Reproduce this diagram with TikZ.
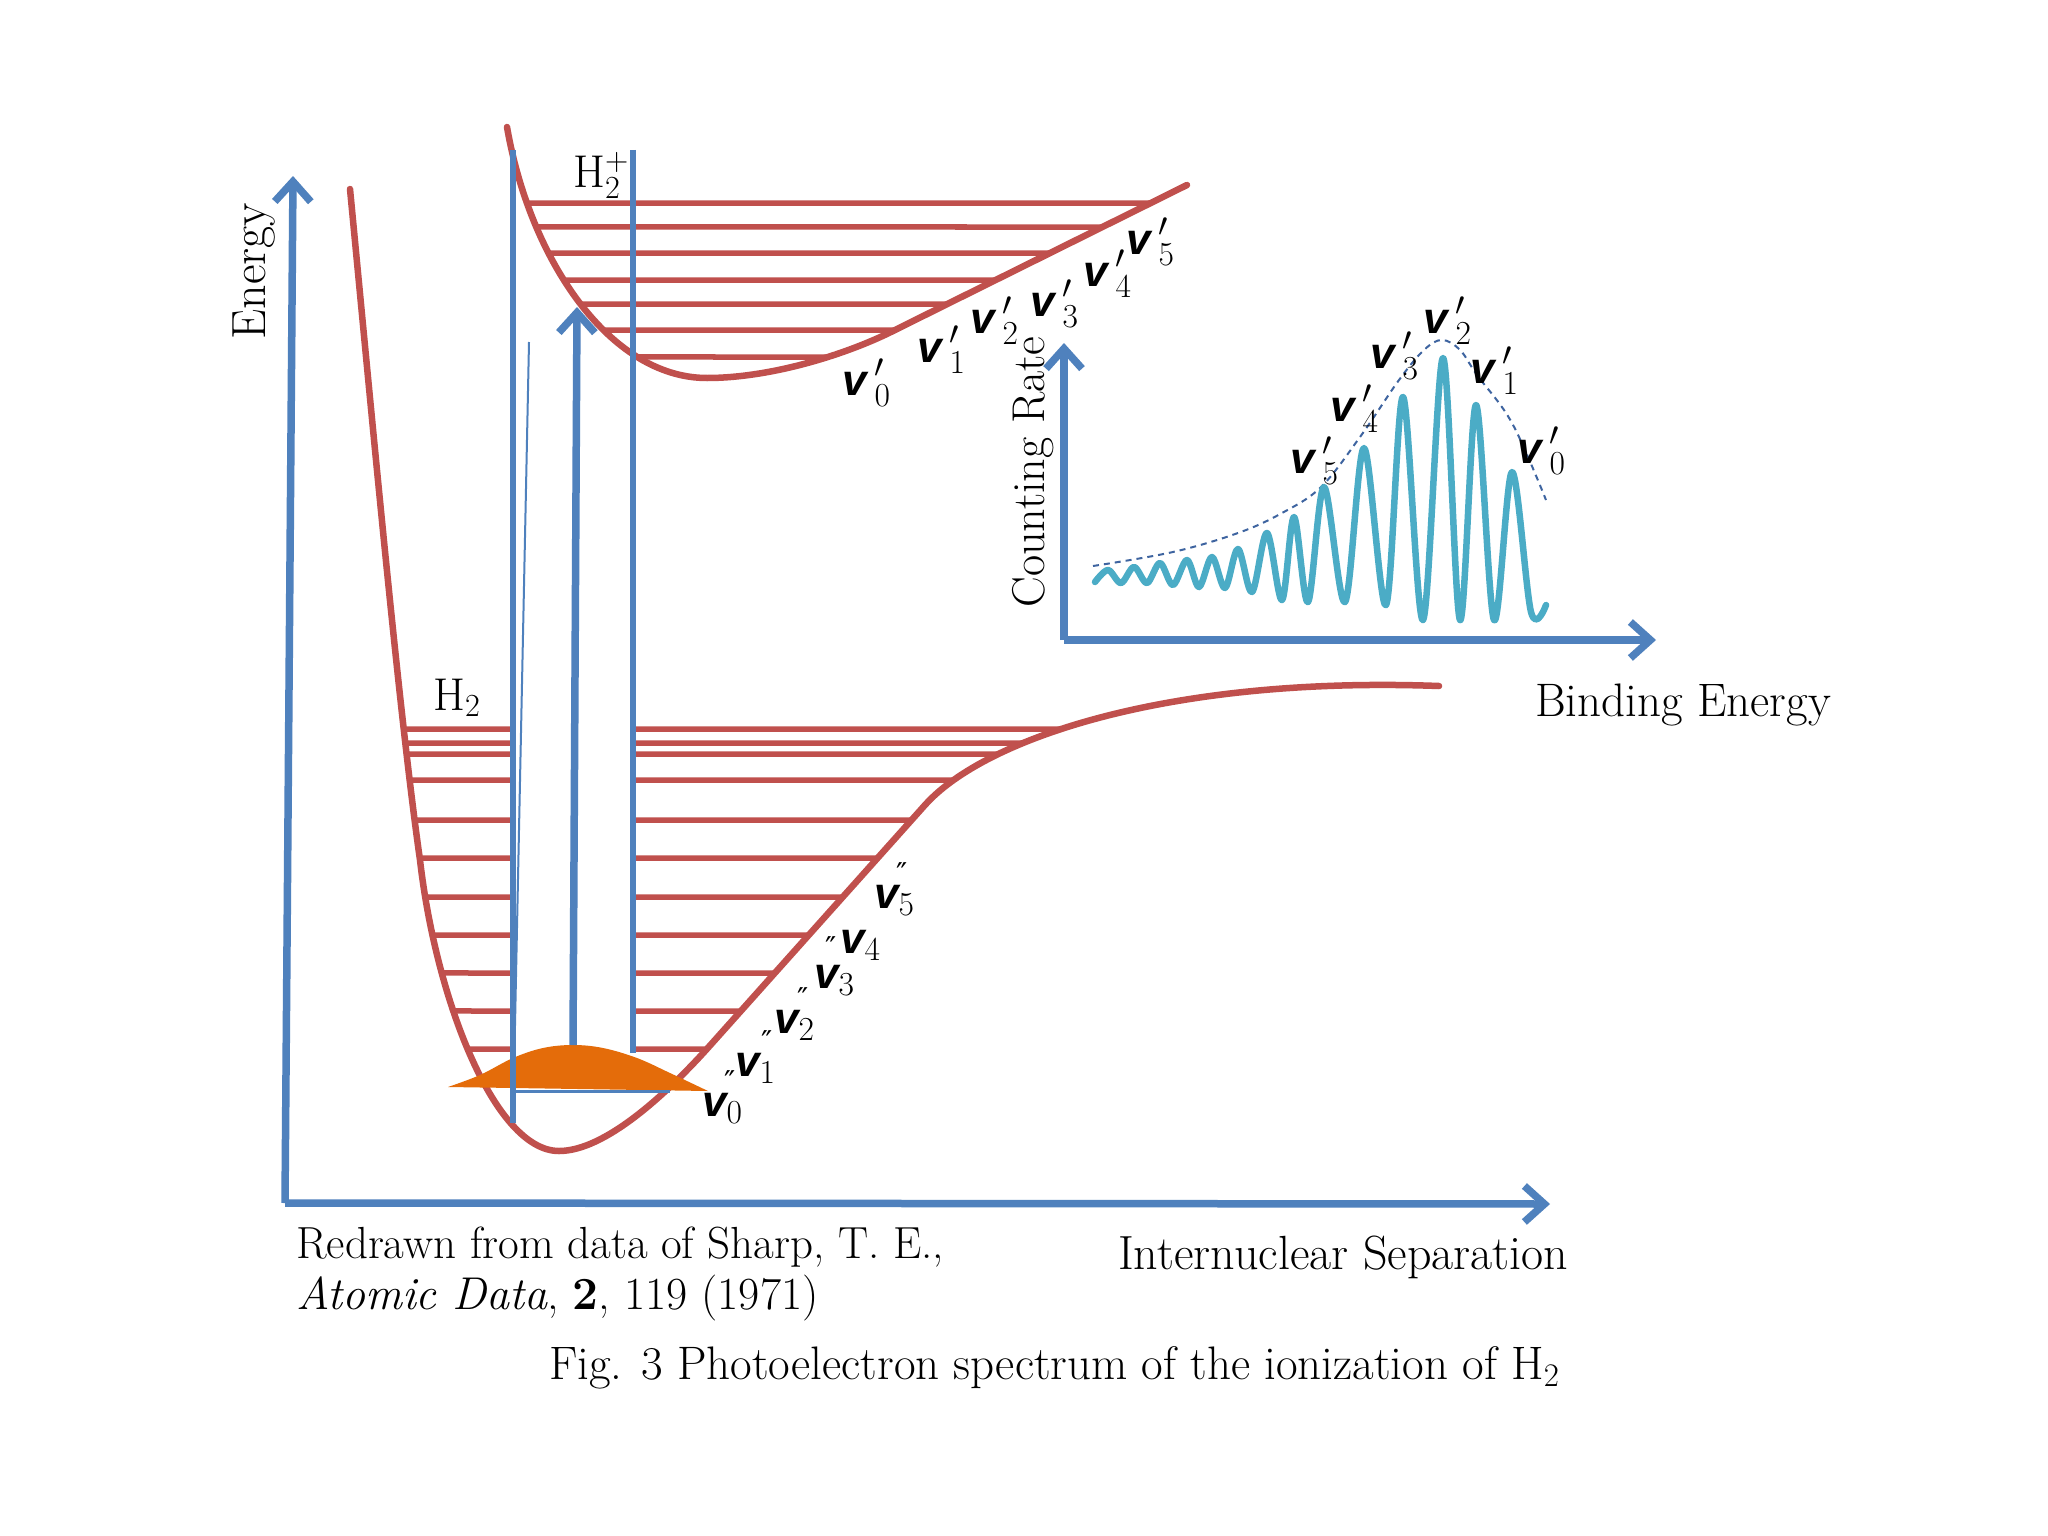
\RequirePackage{fix-cm}
\documentclass[tikz,border=0pt]{standalone}
\usepackage{fontspec}
\newfontfamily\vfont{Liberation Sans}
\newfontfamily\djv{DejaVu Sans}
\usetikzlibrary{arrows.meta,intersections}
\definecolor{pred}{HTML}{C0504D}
\definecolor{pblue}{HTML}{4F81BD}
\definecolor{pteal}{HTML}{4BACC6}
\definecolor{porange}{HTML}{E46C0A}
\definecolor{pdash}{HTML}{3E64A0}
\newcommand{\myv}{\mbox{\fontsize{44}{50}\selectfont\vfont\bfseries\itshape v}}
\begin{document}
\begin{tikzpicture}[x=1pt,y=-1pt,
  curve/.style={draw=pred, line width=6.5pt, line join=round, line cap=round},
  level/.style={draw=pred, line width=5.5pt},
  vline/.style={draw=pblue, line width=5.5pt},
  thinline/.style={draw=pblue, line width=2pt},
  axis/.style={draw=pblue, line width=7.5pt, -{Straight Barb[length=20pt,width=36pt]}},
  uparrow/.style={draw=pblue, line width=7.5pt, -{Straight Barb[length=20pt,width=36pt]}},
  spec/.style={draw=pteal, line width=6.5pt, line join=round, line cap=round},
  envelope/.style={draw=pdash, line width=2pt, dash pattern=on 6pt off 5pt},
  txt/.style={inner sep=0pt},
  vlab/.style={font=\fontsize{48}{54}\selectfont, inner sep=0pt, anchor=base west},
  tick/.style={font=\fontsize{30}{30}\djv, inner sep=0pt, anchor=base}
]
\useasboundingbox[fill=white] (0,0) rectangle (2048,1536);

% named (invisible) potential curves for level ends
\path[name path=pH] (350,189) .. controls (375,450) and (400,720) .. (420,860)
   .. controls (436,1000) and (495,1151) .. (559,1151)
   .. controls (605,1151) and (666,1094) .. (706,1050) -- (925,805)
   .. controls (985,738) and (1170,676) .. (1439,686);
\path[name path=pI] (507,127) .. controls (530,260) and (610,378) .. (707,378)
   .. controls (770,378) and (845,355) .. (893,331) -- (1187,185);

% H2 vibrational levels (left and right of the blue window)
\foreach \y [count=\i] in {729,743,754,780,820,858,897,935,973,1011,1049}{
  \path[name path=hl] (300,\y) -- (513,\y);
  \path[name path=hr] (633,\y) -- (1480,\y);
  \path[name intersections={of=pH and hl, name=L}];
  \path[name intersections={of=pH and hr, name=R}];
  \draw[level] (L-1) -- (513,\y);
  \draw[level] (633,\y) -- (R-1);
}
% H2+ vibrational levels
\foreach \y [count=\i] in {203,227,253,280,304,330,357}{
  \path[name path=il] (500,\y) -- (1300,\y);
  \path[name intersections={of=il and pI, name=P, sort by=il}];
  \draw[level] (P-1) -- (P-2);
}

% potential curves
\draw[curve] (350,189) .. controls (375,450) and (400,720) .. (420,860)
   .. controls (436,1000) and (495,1151) .. (559,1151)
   .. controls (605,1151) and (666,1094) .. (706,1050) -- (925,805)
   .. controls (985,738) and (1170,676) .. (1439,686);
\draw[curve] (507,127) .. controls (530,260) and (610,378) .. (707,378)
   .. controls (770,378) and (845,355) .. (893,331) -- (1187,185);

% orange ground-state wavefunction
\fill[porange] plot[smooth, tension=0.6] coordinates {(448,1087) (480,1075) (513,1058) (543,1048) (573,1045) (603,1048) (637,1058) (670,1073) (708,1091)} -- cycle;
\draw[pblue, line width=3pt] (513,1091) -- (670,1091);

% blue vertical window lines
\coordinate (blt) at (513,150); \coordinate (blb) at (513,1123);
\coordinate (brt) at (633,150); \coordinate (brb) at (633,1053);
\draw[vline] (blt) -- (blb);
\draw[vline] (brt) -- (brb);
\coordinate (tlt) at (529,342); \coordinate (tlb) at (513,1123);
\draw[thinline] (tlt) -- (tlb);
\coordinate (ionb) at (573,1045); \coordinate (iont) at (577,307);
\draw[uparrow] (ionb) -- (iont);

% main axes
\coordinate (origin) at (285,1203);
\coordinate (etop) at (293,176);
\coordinate (xend) at (1550,1204);
\draw[axis] (origin) -- (etop);
\draw[axis] (origin) -- (xend);

% spectrum inset axes
\coordinate (sorig) at (1064,640);
\coordinate (stop) at (1064,343);
\coordinate (send) at (1656,640);
\draw[axis] (sorig) -- (stop);
\draw[axis] (sorig) -- (send);

% spectrum
\draw[envelope] plot[smooth, tension=0.6] coordinates {(1093,566) (1173,552) (1238,533) (1282,513) (1321,487) (1360,437) (1399,380) (1424,350) (1442,340) (1460,350) (1477,375) (1512,423) (1546,500)};
\draw[spec] plot[smooth, tension=0.55] coordinates {(1095,582) (1108,570) (1121,583) (1134,567) (1147,583) (1160,563) (1173,585) (1187,560) (1199,587) (1212,557) (1225,588) (1238,549) (1252,592) (1267,533) (1282,600) (1294,517) (1308,602) (1324,487) (1345,602) (1364,448) (1386,605) (1403,397) (1423,620) (1443,358) (1460,620) (1476,405) (1494,620) (1512,472) (1531,612) (1546,605)};

% texts
\node[txt, rotate=90, font=\fontsize{48}{54}\selectfont] (energy) at (254,271) {Energy};
\node[txt, rotate=90, font=\fontsize{46}{54}\selectfont] (crate) at (1033,472) {Counting Rate};
\node[txt, anchor=base west, font=\fontsize{47}{54}\selectfont] (binding) at (1535,716) {Binding Energy};
\node[txt, anchor=base west, font=\fontsize{48}{54}\selectfont] (internuc) at (1118,1269) {Internuclear Separation};
\node[txt, anchor=base west, font=\fontsize{45}{54}\selectfont] (redrawn) at (296,1258) {Redrawn from data of Sharp, T. E.,};
\node[txt, anchor=base west, font=\fontsize{46}{54}\selectfont] (atomic) at (296,1309) {\textit{Atomic Data}, \textbf{2}, 119 (1971)};
\node[txt, anchor=base west, font=\fontsize{47}{54}\selectfont] (fig) at (549,1379) {Fig. 3 Photoelectron spectrum of the ionization of H$_2$};
\node[txt, anchor=base west, font=\fontsize{46}{54}\selectfont] (h2) at (433,710) {H$_2$};
\node[txt, anchor=base west, font=\fontsize{46}{54}\selectfont] (h2p) at (573,187) {H$_2^+$};

% v' labels on H2+ curve
\foreach \x/\y [count=\i from 0] in {842/395, 917/362, 970/333, 1030/316, 1083/286, 1126/254}{
  \node[vlab] (ip\i) at (\x,\y) {$\myv\mkern3mu'_{\i}$};
}
% v' labels on spectrum
\foreach \x/\y/\n in {1290/473/5, 1330/421/4, 1370/368/3, 1423/333/2, 1470/383/1, 1517/463/0}{
  \node[vlab] (sp\n) at (\x,\y) {$\myv\mkern3mu'_{\n}$};
}
% v'' labels on H2 curve
\foreach \x/\y [count=\i from 0] in {702/1116, 735/1076, 774/1033, 814/988, 840/953, 874/908}{
  \node[vlab] (gv\i) at (\x,\y) {$\myv_{\i}$};
}
\foreach \x/\y [count=\i from 1] in {730/1092, 767/1052, 803/1009, 831/958, 902/884}{
  \node[tick] (tk\i) at (\x,\y) {″};
}
\end{tikzpicture}
\end{document}
